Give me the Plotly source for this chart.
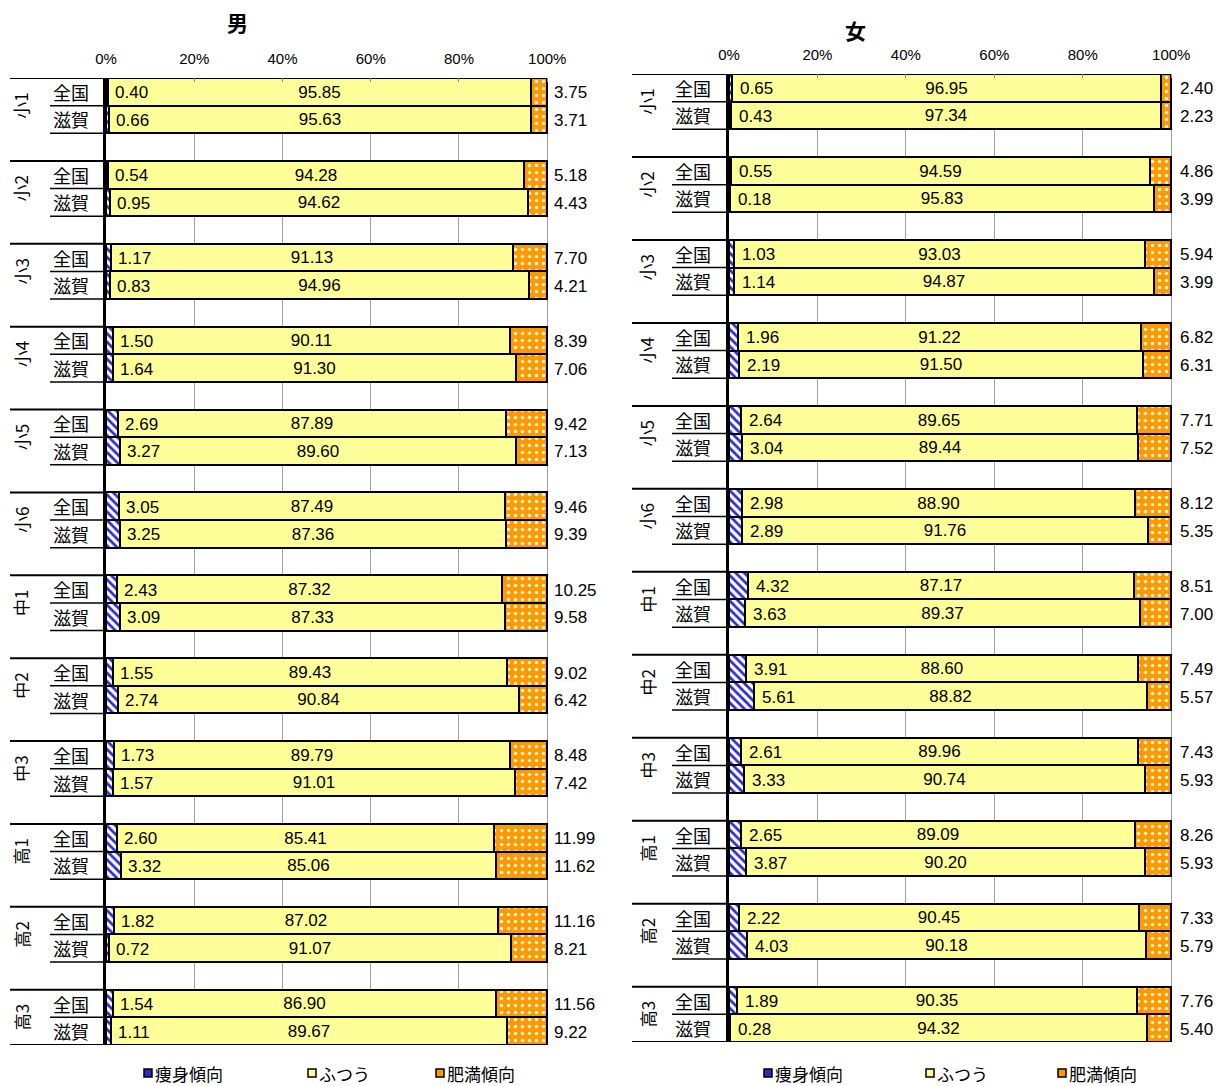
import plotly.graph_objects as go

# page has an 8px body margin, so the figure is drawn at (8, 8)
OFF = 8
W, H = 1226 - OFF, 1086 - OFF

grades = ["小1", "小2", "小3", "小4", "小5", "小6", "中1", "中2", "中3", "高1", "高2", "高3"]
regions = ["全国", "滋賀"]
series_names = ["痩身傾向", "ふつう", "肥満傾向"]
tick_vals = [0, 20, 40, 60, 80, 100]
tick_text = ["0%", "20%", "40%", "60%", "80%", "100%"]

# 男 (boys): per grade, [全国, 滋賀]
boy_thin = [[0.40, 0.66], [0.54, 0.95], [1.17, 0.83], [1.50, 1.64], [2.69, 3.27], [3.05, 3.25],
            [2.43, 3.09], [1.55, 2.74], [1.73, 1.57], [2.60, 3.32], [1.82, 0.72], [1.54, 1.11]]
boy_normal = [[95.85, 95.63], [94.28, 94.62], [91.13, 94.96], [90.11, 91.30], [87.89, 89.60], [87.49, 87.36],
              [87.32, 87.33], [89.43, 90.84], [89.79, 91.01], [85.41, 85.06], [87.02, 91.07], [86.90, 89.67]]
boy_obese = [[3.75, 3.71], [5.18, 4.43], [7.70, 4.21], [8.39, 7.06], [9.42, 7.13], [9.46, 9.39],
             [10.25, 9.58], [9.02, 6.42], [8.48, 7.42], [11.99, 11.62], [11.16, 8.21], [11.56, 9.22]]

# 女 (girls)
girl_thin = [[0.65, 0.43], [0.55, 0.18], [1.03, 1.14], [1.96, 2.19], [2.64, 3.04], [2.98, 2.89],
             [4.32, 3.63], [3.91, 5.61], [2.61, 3.33], [2.65, 3.87], [2.22, 4.03], [1.89, 0.28]]
girl_normal = [[96.95, 97.34], [94.59, 95.83], [93.03, 94.87], [91.22, 91.50], [89.65, 89.44], [88.90, 91.76],
               [87.17, 89.37], [88.60, 88.82], [89.96, 90.74], [89.09, 90.20], [90.45, 90.18], [90.35, 94.32]]
girl_obese = [[2.40, 2.23], [4.86, 3.99], [5.94, 3.99], [6.82, 6.31], [7.71, 7.52], [8.12, 5.35],
              [8.51, 7.00], [7.49, 5.57], [7.43, 5.93], [8.26, 5.93], [7.33, 5.79], [7.76, 5.40]]

FONT = "Liberation Sans, Arial, Noto Sans CJK JP, sans-serif"
JFONT = "Noto Sans CJK JP, sans-serif"
C_THIN_FG = "#2a2ac8"
C_NORMAL = "#FFFF99"
C_OBESE = "#FF9900"
NUM_SIZE = 17


def px(x):
    return (x - OFF) / W


def py(y):
    return 1 - (y - OFF) / H


fig = go.Figure()

panels = [
    dict(name="男", thin=boy_thin, normal=boy_normal, obese=boy_obese,
         xa="x", ya="y", x0=106, x1=549, y0=78, y1=1045,
         lab_x=21, reg_x=71, line_x0=10, sub_x0=50,
         title_xy=(237, 22), thin_shift=5, obese_shift=5,
         legend_x=[148, 312, 440]),
    dict(name="女", thin=girl_thin, normal=girl_normal, obese=girl_obese,
         xa="x2", ya="y2", x0=729, x1=1173, y0=74, y1=1042,
         lab_x=647, reg_x=693, line_x0=632, sub_x0=672,
         title_xy=(855, 30), thin_shift=6, obese_shift=7,
         legend_x=[768, 930, 1062]),
]

annotations = []
shapes = []
nrows = len(grades) * 3 - 1

for pi, p in enumerate(panels):
    ys, th, nm, ob = [], [], [], []
    for g in range(len(grades)):
        for k in range(len(regions)):
            ys.append(g * 3 + k)
            th.append(p["thin"][g][k])
            nm.append(p["normal"][g][k])
            ob.append(p["obese"][g][k])

    common = dict(orientation="h", y=ys, width=1.0, xaxis=p["xa"], yaxis=p["ya"], showlegend=False)
    fig.add_trace(go.Bar(x=th, name=series_names[0], **common,
                         marker=dict(color="white", line=dict(color="black", width=2),
                                     pattern=dict(shape="\\", fgcolor=C_THIN_FG, bgcolor="white",
                                                  size=6, solidity=0.45, fillmode="replace")),
                         hoverinfo="skip"))
    fig.add_trace(go.Bar(x=nm, name=series_names[1], **common,
                         marker=dict(color=C_NORMAL, line=dict(color="black", width=2)),
                         text=[f"{v:.2f}" for v in nm], textposition="inside",
                         insidetextanchor="middle", textangle=0,
                         textfont=dict(family=FONT, size=NUM_SIZE, color="black"),
                         hoverinfo="skip"))
    fig.add_trace(go.Bar(x=ob, name=series_names[2], **common,
                         marker=dict(color=C_OBESE, line=dict(color="black", width=2),
                                     pattern=dict(shape=".", fgcolor="#FFF2C8", bgcolor=C_OBESE,
                                                  size=7, solidity=0.2, fillmode="replace")),
                         hoverinfo="skip"))

    # value labels for thin and obese segments
    for y, t, o in zip(ys, th, ob):
        annotations.append(dict(x=t, y=y, xref=p["xa"], yref=p["ya"], text=f"{t:.2f}",
                                showarrow=False, xanchor="left", yanchor="middle",
                                xshift=p["thin_shift"], yshift=-1,
                                font=dict(family=FONT, size=NUM_SIZE, color="black")))
        annotations.append(dict(x=100, y=y, xref=p["xa"], yref=p["ya"], text=f"{o:.2f}",
                                showarrow=False, xanchor="left", yanchor="middle",
                                xshift=p["obese_shift"], yshift=-1,
                                font=dict(family=FONT, size=NUM_SIZE, color="black")))

    # category labels
    for g, gname in enumerate(grades):
        annotations.append(dict(x=px(p["lab_x"]), y=g * 3 + 0.5, xref="paper", yref=p["ya"],
                                text=gname, textangle=-90, showarrow=False,
                                xanchor="center", yanchor="middle",
                                font=dict(family=JFONT, size=17, color="black")))
        for k, rname in enumerate(regions):
            annotations.append(dict(x=px(p["reg_x"]), y=g * 3 + k, xref="paper", yref=p["ya"],
                                    text=rname, showarrow=False,
                                    xanchor="center", yanchor="middle",
                                    font=dict(family=JFONT, size=18, color="black")))
        # group top line
        shapes.append(dict(type="line", xref="paper", yref=p["ya"],
                           x0=px(p["line_x0"]), x1=px(p["x0"]), y0=g * 3 - 0.5, y1=g * 3 - 0.5,
                           line=dict(color="black", width=2)))
        for k in (0.5, 1.5):
            shapes.append(dict(type="line", xref="paper", yref=p["ya"],
                               x0=px(p["sub_x0"]), x1=px(p["x0"]), y0=g * 3 + k, y1=g * 3 + k,
                               line=dict(color="black", width=1.5)))
    shapes.append(dict(type="line", xref="paper", yref=p["ya"],
                       x0=px(p["line_x0"]), x1=px(p["x0"]), y0=nrows - 0.5, y1=nrows - 0.5,
                       line=dict(color="black", width=2)))

    # title
    annotations.append(dict(x=px(p["title_xy"][0]), y=py(p["title_xy"][1]), xref="paper", yref="paper",
                            text=f"<b>{p['name']}</b>", showarrow=False,
                            xanchor="center", yanchor="middle",
                            font=dict(family=JFONT, size=21, color="black")))

    # legend (manual)
    colors = [C_THIN_FG, C_NORMAL, C_OBESE]
    ly = 1073
    for name, lx, col in zip(series_names, p["legend_x"], colors):
        shapes.append(dict(type="rect", xref="paper", yref="paper",
                           x0=px(lx - 4), x1=px(lx + 4), y0=py(ly + 4), y1=py(ly - 4),
                           fillcolor=col, line=dict(color="black", width=1.5)))
        annotations.append(dict(x=px(lx + 5), y=py(ly), xref="paper", yref="paper",
                                text=name, showarrow=False, xanchor="left", yanchor="middle",
                                font=dict(family=JFONT, size=17, color="black")))

    ax_x = dict(domain=[px(p["x0"]), px(p["x1"])], range=[0, 100.4], side="top",
                tickvals=tick_vals, ticktext=tick_text, ticks="inside", ticklen=4,
                tickcolor="#888888", showgrid=True, gridcolor="#A0A0A0", gridwidth=1,
                zeroline=False, showline=False, ticklabelstandoff=10,
                tickfont=dict(family=FONT, size=15, color="black"), fixedrange=True)
    ax_y = dict(domain=[py(p["y1"]), py(p["y0"])], range=[nrows - 0.5, -0.5],
                showticklabels=False, showgrid=False, zeroline=False, ticks="",
                showline=True, linecolor="black", linewidth=3, fixedrange=True)
    if pi == 0:
        fig.update_layout(xaxis=dict(anchor="y", **ax_x), yaxis=dict(anchor="x", **ax_y))
    else:
        fig.update_layout(xaxis2=dict(anchor="y2", **ax_x), yaxis2=dict(anchor="x2", **ax_y))

fig.update_layout(
    width=W, height=H, barmode="stack", bargap=0,
    margin=dict(l=0, r=0, t=0, b=0, pad=0, autoexpand=False),
    paper_bgcolor="white", plot_bgcolor="white",
    annotations=annotations, shapes=shapes,
    font=dict(family=FONT, color="black"),
    showlegend=False,
)

fig.write_html("out.html", config={"responsive": False, "displayModeBar": False})
